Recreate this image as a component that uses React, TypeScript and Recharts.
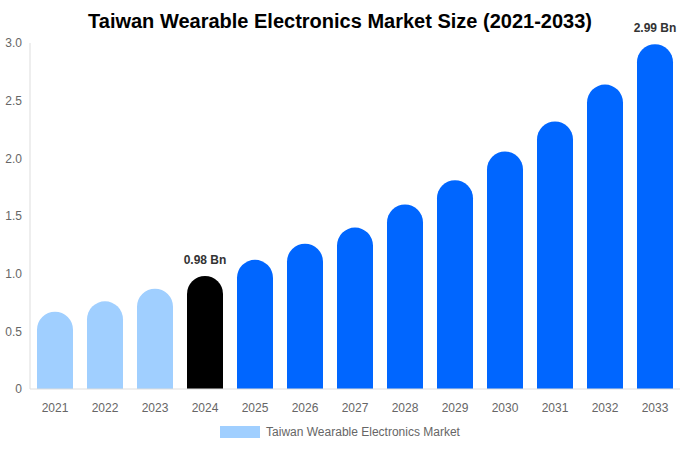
import React from 'react';
import { BarChart, Bar, XAxis, YAxis, Cell, LabelList, Legend } from 'recharts';

const years = ['2021','2022','2023','2024','2025','2026','2027','2028','2029','2030','2031','2032','2033'];
const values = [0.67, 0.76, 0.87, 0.98, 1.12, 1.26, 1.40, 1.60, 1.81, 2.06, 2.32, 2.64, 2.99];
const labeledYears = ['2024', '2033'];
const yTicks = [0, 0.5, 1.0, 1.5, 2.0, 2.5, 3.0];

const data = years.map((y, i) => ({
  year: y,
  value: values[i],
  label: labeledYears.includes(y) ? `${values[i].toFixed(2)} Bn` : '',
}));

const colorFor = (y: string) => {
  const n = Number(y);
  if (n < 2024) return '#a0cfff';
  if (n === 2024) return '#000000';
  return '#0066ff';
};

const LegendContent = () => (
  <div style={{ display: 'flex', justifyContent: 'center', alignItems: 'center', height: 26, fontFamily: 'Liberation Sans, Arial, sans-serif', fontSize: 12, color: '#666' }}>
    <span style={{ display: 'inline-block', width: 40, height: 12, background: '#a0cfff', marginRight: 6 }} />
    <span>Taiwan Wearable Electronics Market</span>
  </div>
);

const TopLabel = (props: any) => {
  const { x, y, width, value } = props;
  if (!value) return null;
  return (
    <text x={Number(x) + Number(width) / 2} y={Number(y) - 12} textAnchor="middle" fill="#333" fontSize={12} fontWeight="bold">
      {value}
    </text>
  );
};

export default function App() {
  return (
    <div style={{ position: 'absolute', left: 0, top: 0, width: 680, height: 450, background: '#fff', fontFamily: 'Liberation Sans, Arial, sans-serif' }}>
      <div style={{ position: 'absolute', left: 0, top: 8, width: 680, textAlign: 'center', fontSize: 20, fontWeight: 'bold', color: '#000', lineHeight: '26px' }}>
        Taiwan Wearable Electronics Market Size (2021-2033)
      </div>
      <BarChart width={680} height={450} data={data} margin={{ top: 43, right: 0, left: 0, bottom: 5 }} barSize={36} style={{ overflow: 'visible' }}>
        <XAxis dataKey="year" height={30} tickLine={false} axisLine={{ stroke: '#ddd' }} tick={{ fill: '#666', fontSize: 12 }} interval={0} tickMargin={8} />
        <YAxis width={30} domain={[0, 3]} ticks={yTicks} tickLine={false} axisLine={{ stroke: '#ddd' }} tick={{ fill: '#666', fontSize: 12 }} tickFormatter={(v: number) => (v === 0 ? '0' : v.toFixed(1))} interval={0} />
        <Legend verticalAlign="bottom" height={26} content={<LegendContent />} />
        <Bar dataKey="value" isAnimationActive={false} radius={[18, 18, 0, 0]} legendType="rect">
          {data.map((d) => (
            <Cell key={d.year} fill={colorFor(d.year)} />
          ))}
          <LabelList dataKey="label" content={<TopLabel />} />
        </Bar>
      </BarChart>
    </div>
  );
}
